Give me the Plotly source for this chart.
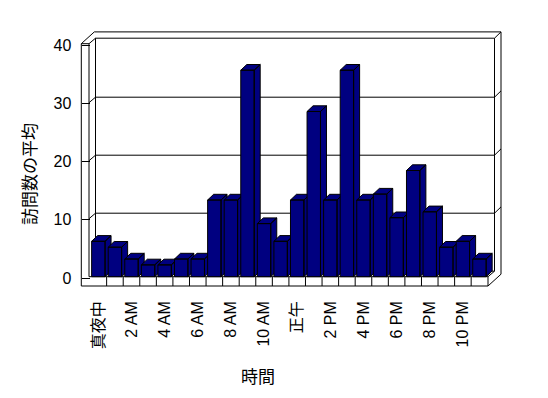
import plotly.graph_objects as go

# ---------------- data ----------------
hours = list(range(24))
visits = [6, 5, 3, 2, 2, 3, 3, 13, 13, 35, 9, 6, 13, 28, 13, 35, 13, 14, 10, 18, 11, 5, 6, 3]
tick_positions = [0, 2, 4, 6, 8, 10, 12, 14, 16, 18, 20, 22]
tick_labels = ["真夜中", "2 AM", "4 AM", "6 AM", "8 AM", "10 AM", "正午",
               "2 PM", "4 PM", "6 PM", "8 PM", "10 PM"]
y_ticks = [0, 10, 20, 30, 40]
x_title = "時間"
y_title = "訪問数の平均"

# ---------------- geometry (pixels) ----------------
FIG_W, FIG_H = 548, 398
L, R, T, B = 70, 510, 25, 297          # plot area in pixels
PW, PH = R - L, B - T

X0_PX, X_STEP = 98.35, 16.57           # category 0 centre, px per category
Y0_PX, Y_STEP = 276.7, 5.9             # bar baseline, px per unit (bars)
YF0_PX, YF_STEP = 278.0, 5.825         # front value axis (labels)
YB0_PX, YB_STEP = 271.2, 5.8           # back wall value scale (grid)

BAR_W = 0.81                           # bar width in category units
BAR_DX_PX, BAR_DY_PX = 6.0, 5.7        # bar depth offset (px)

NAVY = "#000080"
FONT = "Liberation Sans, Arial, Noto Sans CJK JP, sans-serif"


def px_to_x(px):
    return (px - X0_PX) / X_STEP


def py_to_y(py):
    return (Y0_PX - py) / Y_STEP


def paper_x(px):
    return (px - L) / PW


def paper_y(py):
    return (B - py) / PH


x_range = [px_to_x(L), px_to_x(R)]
y_range = [py_to_y(B), py_to_y(T)]
yf_range = [(YF0_PX - B) / YF_STEP, (YF0_PX - T) / YF_STEP]

DX = BAR_DX_PX / X_STEP
DY = BAR_DY_PX / Y_STEP

fig = go.Figure()

# ---------------- bars (pseudo 3-D, drawn left to right) ----------------
for h, v in zip(hours, visits):
    x_l, x_r = h - BAR_W / 2, h + BAR_W / 2
    xs = [x_l, x_r, x_r, x_l, x_l, None,                                  # front
          x_l, x_r, x_r + DX, x_l + DX, x_l, None,                        # top
          x_r, x_r + DX, x_r + DX, x_r, x_r]                              # side
    ys = [0, 0, v, v, 0, None,
          v, v, v + DY, v + DY, v, None,
          0, DY, v + DY, v, 0]
    fig.add_trace(go.Scatter(
        x=xs, y=ys, mode="lines", fill="toself", fillcolor=NAVY,
        line=dict(color="black", width=1), hoverinfo="skip", showlegend=False,
    ))

# invisible trace to activate the front value axis
fig.add_trace(go.Scatter(x=[None], y=[None], yaxis="y2", showlegend=False, hoverinfo="skip"))

# ---------------- frame (walls and floor) ----------------
D1 = (6.5, -5.5)     # floor depth to back wall inner face
D2 = (6.5, -6.3)     # back wall thickness
LW_OUT, LW_IN = 81.3, 89.0
FLOOR_TOP, FLOOR_BOT = Y0_PX, 286.0
FLOOR_RIGHT = 488.0
WALL_TOP_FRONT = 43.7
BW_L = LW_IN + D1[0]
BW_R = FLOOR_RIGHT + D1[0]
BW_TOP = WALL_TOP_FRONT + D1[1]
BW_BOT = FLOOR_TOP + D1[1]
OUT_DX, OUT_DY = D1[0] + D2[0], D1[1] + D2[1]

segs = [
    # left wall front face
    ((LW_OUT, WALL_TOP_FRONT), (LW_OUT, FLOOR_BOT)),
    ((LW_IN, WALL_TOP_FRONT), (LW_IN, FLOOR_TOP)),
    ((LW_OUT, WALL_TOP_FRONT), (LW_IN, WALL_TOP_FRONT)),
    # left wall top
    ((LW_OUT, WALL_TOP_FRONT), (LW_OUT + OUT_DX, WALL_TOP_FRONT + OUT_DY)),
    ((LW_IN, WALL_TOP_FRONT), (BW_L, BW_TOP)),
    # back wall
    ((BW_L, BW_TOP), (BW_R, BW_TOP)),
    ((LW_OUT + OUT_DX, WALL_TOP_FRONT + OUT_DY), (BW_R + D2[0], BW_TOP + D2[1])),
    ((BW_R, BW_TOP), (BW_R + D2[0], BW_TOP + D2[1])),
    ((BW_L, BW_TOP), (BW_L, BW_BOT)),
    ((BW_R, BW_TOP), (BW_R, BW_BOT)),
    ((BW_R + D2[0], BW_TOP + D2[1]), (FLOOR_RIGHT + OUT_DX, FLOOR_BOT + OUT_DY)),
    ((BW_L, BW_BOT), (BW_R, BW_BOT)),
    # floor
    ((LW_OUT, FLOOR_BOT), (FLOOR_RIGHT, FLOOR_BOT)),
    ((LW_IN, FLOOR_TOP), (FLOOR_RIGHT, FLOOR_TOP)),
    ((FLOOR_RIGHT, FLOOR_TOP), (FLOOR_RIGHT, FLOOR_BOT)),
    ((FLOOR_RIGHT, FLOOR_TOP), (BW_R, BW_BOT)),
    ((FLOOR_RIGHT, FLOOR_BOT), (FLOOR_RIGHT + OUT_DX, FLOOR_BOT + OUT_DY)),
]

# back-wall gridlines (from the value ticks)
for v in y_ticks[1:-1]:
    py = YB0_PX - YB_STEP * v
    segs.append(((LW_IN, py - D1[1]), (BW_L, py)))
    segs.append(((BW_L, py), (BW_R, py)))
    segs.append(((BW_R, py), (BW_R + D2[0], py + D2[1])))

shapes = []
for (x0, y0), (x1, y1) in segs:
    shapes.append(dict(type="line", xref="paper", yref="paper",
                       x0=paper_x(x0), y0=paper_y(y0), x1=paper_x(x1), y1=paper_y(y1),
                       line=dict(color="black", width=1), layer="below"))

# category separators on the floor front face
for h in hours[:-1]:
    shapes.append(dict(type="line", xref="x", yref="paper",
                       x0=h + 0.5, x1=h + 0.5,
                       y0=paper_y(FLOOR_BOT), y1=paper_y(FLOOR_TOP),
                       line=dict(color="black", width=1), layer="below"))

annotations = [
    dict(text=x_title, xref="paper", yref="paper", x=paper_x(258), y=paper_y(377),
         showarrow=False, font=dict(size=17, color="black", family=FONT),
         xanchor="center", yanchor="middle"),
    dict(text=y_title, xref="paper", yref="paper", x=paper_x(30), y=paper_y(174),
         showarrow=False, textangle=-90, font=dict(size=17, color="black", family=FONT),
         xanchor="center", yanchor="middle"),
]

fig.update_layout(
    width=FIG_W, height=FIG_H,
    margin=dict(l=L, r=FIG_W - R, t=T, b=FIG_H - B),
    paper_bgcolor="white", plot_bgcolor="white",
    font=dict(family=FONT, size=14, color="black"),
    showlegend=False, hovermode=False,
    shapes=shapes, annotations=annotations,
    xaxis=dict(range=x_range, tickvals=tick_positions, ticktext=tick_labels,
               tickangle=-90, showgrid=False, zeroline=False, showline=False,
               ticks="", tickfont=dict(size=16, family=FONT, color="black"),
               fixedrange=True),
    yaxis=dict(range=y_range, showgrid=False, zeroline=False, showline=False,
               showticklabels=False, ticks="", fixedrange=True),
    yaxis2=dict(range=yf_range, overlaying="y", anchor="free", position=paper_x(LW_OUT),
                side="left", tickvals=y_ticks, ticks="inside", ticklen=LW_IN - LW_OUT,
                tickcolor="black", tickwidth=1, showgrid=False, zeroline=False,
                showline=False, ticklabelstandoff=10,
                tickfont=dict(size=16, family=FONT, color="black"), fixedrange=True),
)

fig.write_html("out.html", config={"displayModeBar": False, "staticPlot": True})
